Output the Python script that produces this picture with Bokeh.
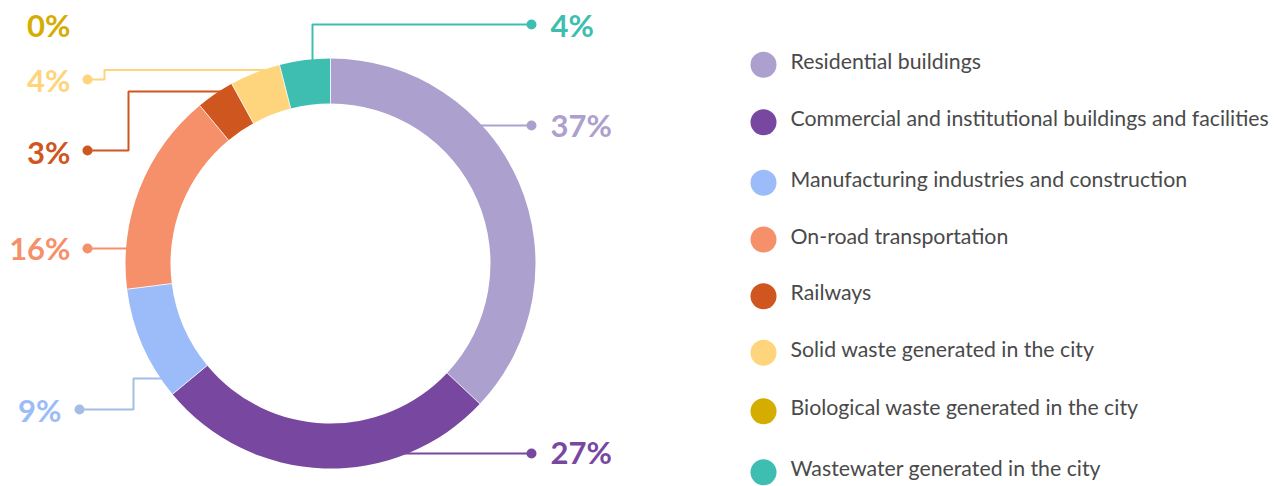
import numpy as np
from bokeh.plotting import figure
from bokeh.models import Range1d, ColumnDataSource
from bokeh.core.properties import value
from bokeh.embed import file_html
from bokeh.resources import INLINE

# ---------------- data ----------------
categories = [
    "Residential buildings",
    "Commercial and institutional buildings and facilities",
    "Manufacturing industries and construction",
    "On-road transportation",
    "Railways",
    "Solid waste generated in the city",
    "Biological waste generated in the city",
    "Wastewater generated in the city",
]
values = [37, 27, 9, 16, 3, 4, 0, 4]
colors = ["#ACA0CF", "#7848A1", "#9CBCF9", "#F6906A", "#CF561E", "#FED57D", "#D5AD00", "#3EBEB1"]
line_colors = ["#ACA0CF", "#7848A1", "#A4BDE4", "#F6906A", "#CF561E", "#FED57D", "#D5AD00", "#3EBEB1"]
pct_labels = [f"{v}%" for v in values]

# ---------------- layout (page pixels) ----------------
W, H = 1276, 486
CX, CY = 330, 263
R_OUT, R_IN = 205, 160

def Y(py):
    return H - py

# per-slice leader layout: side, start y (or x for vertical), elbow x, end y, dot x, text anchor x, text y
leaders = [
    dict(side="right", y0=125, ex=None, y1=125, dx=531, tx=550, ty=124),
    dict(side="right", y0=453, ex=None, y1=453, dx=531, tx=550, ty=451),
    dict(side="left", y0=378, ex=133, y1=409, dx=79, tx=61, ty=409),
    dict(side="left", y0=248, ex=None, y1=248, dx=87, tx=70, ty=247.5),
    dict(side="left", y0=91, ex=128, y1=150, dx=87, tx=70, ty=151),
    dict(side="left", y0=69.5, ex=104, y1=79, dx=87, tx=70, ty=79),
    dict(side="none", tx=70, ty=24),
    dict(side="vertical", x0=312, y1=24, dx=531, tx=550, ty=24),
]
legend_y = [64.3, 121.7, 182.3, 239, 295.7, 352.3, 410.7, 471.7]

p = figure(width=W, height=H, x_range=Range1d(0, W), y_range=Range1d(0, H),
           output_backend="svg", toolbar_location=None, min_border=0)
p.axis.visible = False
p.grid.visible = False
p.outline_line_color = None
p.background_fill_color = "white"
p.border_fill_color = "white"

# ---------------- leader lines ----------------
xs, ys, lc = [], [], []
dot_x, dot_y, dot_c = [], [], []
R_MID = (R_OUT + R_IN) / 2
for i, L in enumerate(leaders):
    if L["side"] == "none":
        continue
    if L["side"] == "vertical":
        x0 = L["x0"]
        y0 = CY - np.sqrt(R_MID ** 2 - (x0 - CX) ** 2)
        px = [x0, x0, L["dx"]]
        py = [y0, L["y1"], L["y1"]]
    else:
        sgn = 1 if L["side"] == "right" else -1
        x0 = CX + sgn * np.sqrt(max(R_MID ** 2 - (L["y0"] - CY) ** 2, 0))
        if L["ex"] is None:
            px = [x0, L["dx"]]
            py = [L["y0"], L["y1"]]
        else:
            px = [x0, L["ex"], L["ex"], L["dx"]]
            py = [L["y0"], L["y0"], L["y1"], L["y1"]]
    xs.append(px)
    ys.append([Y(v) for v in py])
    lc.append(line_colors[i])
    dot_x.append(px[-1])
    dot_y.append(Y(py[-1]))
    dot_c.append(line_colors[i])

p.multi_line(xs, ys, line_color=lc, line_width=2)
p.scatter(dot_x, dot_y, size=10, color=dot_c, line_color=None)

# ---------------- donut ----------------
cum = np.concatenate([[0], np.cumsum(values)]) / sum(values)
starts = np.radians(90 - cum[:-1] * 360)
ends = np.radians(90 - cum[1:] * 360)
keep = [i for i, v in enumerate(values) if v > 0]
src = ColumnDataSource(dict(
    start=[starts[i] for i in keep],
    end=[ends[i] for i in keep],
    color=[colors[i] for i in keep],
))
p.annular_wedge(x=CX, y=Y(CY), inner_radius=R_IN, outer_radius=R_OUT,
                start_angle="start", end_angle="end", direction="clock",
                fill_color="color", line_color=None, source=src)
# thin white separators between slices
sep_x, sep_y = [], []
for i in keep:
    a = starts[i]
    sep_x.append([CX + R_IN * np.cos(a), CX + R_OUT * np.cos(a)])
    sep_y.append([Y(CY) + R_IN * np.sin(a), Y(CY) + R_OUT * np.sin(a)])
p.multi_line(sep_x, sep_y, line_color="white", line_width=1, line_alpha=0.8)

# ---------------- percentage labels ----------------
rx, ry, rt, rc = [], [], [], []
lx, ly, lt, lcc = [], [], [], []
for i, L in enumerate(leaders):
    if L["side"] in ("right", "vertical"):
        rx.append(L["tx"]); ry.append(Y(L["ty"])); rt.append(pct_labels[i]); rc.append(colors[i])
    else:
        lx.append(L["tx"]); ly.append(Y(L["ty"])); lt.append(pct_labels[i]); lcc.append(colors[i])
p.text(rx, ry, text=rt, text_color=rc, text_font=value("Lato"), text_font_style="bold",
       text_font_size="31px", text_align="left", text_baseline="alphabetic")
p.text(lx, ly, text=lt, text_color=lcc, text_font=value("Lato"), text_font_style="bold",
       text_font_size="31px", text_align="right", text_baseline="alphabetic")

# ---------------- legend ----------------
p.scatter([763] * len(categories), [Y(v) for v in legend_y], size=26, color=colors, line_color=None)
p.text([790] * len(categories), [Y(v - 3.8) for v in legend_y], text=categories,
       text_color="#4A4A4A", text_font=value("Lato"), text_font_size="21.3px",
       text_align="left", text_baseline="alphabetic")

open("out.html", "w").write(file_html(p, INLINE))
